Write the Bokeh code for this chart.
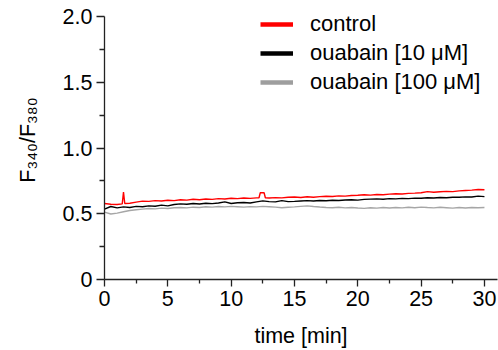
from bokeh.plotting import figure
from bokeh.models import (Range1d, FixedTicker, CustomJSTickFormatter, Legend,
                          LegendItem, ColumnDataSource)
from bokeh.embed import file_html
from bokeh.resources import INLINE

# ---- data ----
t_ctrl = [0, 0.5, 1.0, 1.4, 1.5, 1.6, 2.0, 2.5, 3.0, 3.5, 4.0, 4.5, 5.0, 5.5,
          6.0, 6.5, 7.0, 7.5, 8.0, 8.5, 9.0, 9.5, 10.0, 10.5, 11.0, 11.5,
          12.0, 12.2, 12.3, 12.6, 12.7, 13.0, 13.5, 14.0, 14.5, 15.0, 15.5,
          16.0, 16.5, 17.0, 17.5, 18.0, 18.5, 19.0, 19.5, 20.0, 20.5, 21.0,
          21.5, 22.0, 22.5, 23.0, 23.5, 24.0, 24.5, 25.0, 25.5, 26.0, 26.5,
          27.0, 27.5, 28.0, 28.5, 29.0, 29.5, 30.0]
control = [0.578, 0.572, 0.570, 0.575, 0.665, 0.578, 0.580, 0.588, 0.596,
           0.594, 0.600, 0.597, 0.603, 0.600, 0.606, 0.604, 0.610, 0.607,
           0.612, 0.609, 0.615, 0.612, 0.618, 0.615, 0.620, 0.617, 0.621,
           0.622, 0.660, 0.660, 0.622, 0.620, 0.623, 0.621, 0.625, 0.627,
           0.624, 0.629, 0.626, 0.630, 0.633, 0.631, 0.636, 0.634, 0.639,
           0.641, 0.645, 0.642, 0.646, 0.644, 0.649, 0.652, 0.650, 0.655,
           0.657, 0.660, 0.668, 0.663, 0.667, 0.670, 0.668, 0.674, 0.677,
           0.680, 0.684, 0.682]

t = [0, 0.5, 1.0, 1.5, 2.0, 2.5, 3.0, 3.5, 4.0, 4.5, 5.0, 5.5, 6.0, 6.5,
     7.0, 7.5, 8.0, 8.5, 9.0, 9.5, 10.0, 10.5, 11.0, 11.5, 12.0, 12.5, 13.0,
     13.5, 14.0, 14.5, 15.0, 15.5, 16.0, 16.5, 17.0, 17.5, 18.0, 18.5, 19.0,
     19.5, 20.0, 20.5, 21.0, 21.5, 22.0, 22.5, 23.0, 23.5, 24.0, 24.5, 25.0,
     25.5, 26.0, 26.5, 27.0, 27.5, 28.0, 28.5, 29.0, 29.5, 30.0]
ouabain_10 = [0.535, 0.555, 0.545, 0.552, 0.548, 0.556, 0.553, 0.560, 0.557,
              0.566, 0.560, 0.570, 0.575, 0.572, 0.578, 0.574, 0.580, 0.577,
              0.582, 0.590, 0.578, 0.584, 0.586, 0.582, 0.590, 0.598, 0.592,
              0.590, 0.600, 0.592, 0.594, 0.597, 0.600, 0.597, 0.601, 0.599,
              0.603, 0.601, 0.605, 0.607, 0.604, 0.609, 0.611, 0.613, 0.610,
              0.615, 0.613, 0.617, 0.615, 0.619, 0.618, 0.622, 0.620, 0.624,
              0.622, 0.626, 0.625, 0.628, 0.627, 0.634, 0.630]
ouabain_100 = [0.512, 0.498, 0.505, 0.515, 0.525, 0.530, 0.535, 0.540, 0.537,
               0.543, 0.540, 0.546, 0.548, 0.545, 0.550, 0.548, 0.553, 0.550,
               0.555, 0.552, 0.556, 0.553, 0.550, 0.554, 0.552, 0.556, 0.553,
               0.550, 0.546, 0.549, 0.552, 0.556, 0.560, 0.555, 0.551, 0.548,
               0.546, 0.549, 0.545, 0.548, 0.544, 0.541, 0.546, 0.543, 0.547,
               0.544, 0.548, 0.545, 0.549, 0.546, 0.550, 0.547, 0.545, 0.549,
               0.546, 0.543, 0.547, 0.544, 0.548, 0.546, 0.548]

series_names = ["control", "ouabain [10 \u03bcM]", "ouabain [100 \u03bcM]"]
series_colors = ["#FF0000", "#000000", "#A6A6A6"]
legend_colors = ["#FF0000", "#000000", "#9E9E9E"]

x_ticks = [0, 5, 10, 15, 20, 25, 30]
x_minor = [2.5, 7.5, 12.5, 17.5, 22.5, 27.5]
y_ticks = [0, 0.5, 1.0, 1.5, 2.0]
y_minor = [0.25, 0.75, 1.25, 1.75]

FONT = "Liberation Sans"
AX_FS = "21.5px"

p = figure(width=498, height=350, output_backend="svg", toolbar_location=None,
           x_range=Range1d(0, 31.03), y_range=Range1d(0, 2.1217),
           min_border_left=104, min_border_top=0, min_border_right=1,
           min_border_bottom=71)
p.outline_line_color = None
p.grid.visible = False
p.background_fill_color = "white"

p.line(t_ctrl, control, line_color=series_colors[0], line_width=1.4)
p.line(t, ouabain_10, line_color=series_colors[1], line_width=1.4)
p.line(t, ouabain_100, line_color=series_colors[2], line_width=1.4)

# legend with thick swatches
items = []
for name, col in zip(series_names, legend_colors):
    src = ColumnDataSource(dict(x=[float("nan")], y=[float("nan")]))
    r = p.line("x", "y", source=src, line_color=col, line_width=4.5)
    items.append(LegendItem(label=name, renderers=[r]))
legend = Legend(items=items, location=(156, 184), border_line_color=None,
                background_fill_alpha=0, padding=0, margin=0, spacing=3,
                glyph_width=33, glyph_height=24, label_height=24,
                label_standoff=17, label_text_font=FONT,
                label_text_font_size="22px", label_text_color="#000000")
p.add_layout(legend, "center")

for ax in (p.xaxis[0], p.yaxis[0]):
    ax.axis_line_color = "#222222"
    ax.axis_line_width = 1.3
    ax.major_tick_line_color = "#222222"
    ax.minor_tick_line_color = "#222222"
    ax.major_tick_line_width = 1.3
    ax.minor_tick_line_width = 1.3
    ax.major_tick_in = 0
    ax.minor_tick_in = 0
    ax.major_label_text_font = FONT
    ax.major_label_text_font_size = AX_FS
    ax.major_label_text_color = "#000000"
    ax.major_label_text_line_height = 1.0
    ax.axis_label_text_font = FONT
    ax.axis_label_text_font_size = AX_FS
    ax.axis_label_text_font_style = "normal"
    ax.axis_label_text_color = "#000000"
    ax.axis_label_text_line_height = 1.0

p.yaxis.bounds = (0, 2.0)
p.xaxis.ticker = FixedTicker(ticks=x_ticks, minor_ticks=x_minor)
p.yaxis.ticker = FixedTicker(ticks=y_ticks, minor_ticks=y_minor)
p.yaxis.formatter = CustomJSTickFormatter(
    code="return tick == 0 ? '0' : tick.toFixed(1);")
p.xaxis.major_tick_out = 7
p.xaxis.minor_tick_out = 4
p.yaxis.major_tick_out = 8
p.yaxis.minor_tick_out = 5
p.xaxis.major_label_standoff = 4
p.yaxis.major_label_standoff = 4
p.xaxis.axis_label = "time [min]"
p.yaxis.axis_label = "F\u2083\u2084\u2080/F\u2083\u2088\u2080"
p.xaxis.axis_label_standoff = 15
p.yaxis.axis_label_standoff = 20

open("out.html", "w").write(file_html(p, INLINE))
